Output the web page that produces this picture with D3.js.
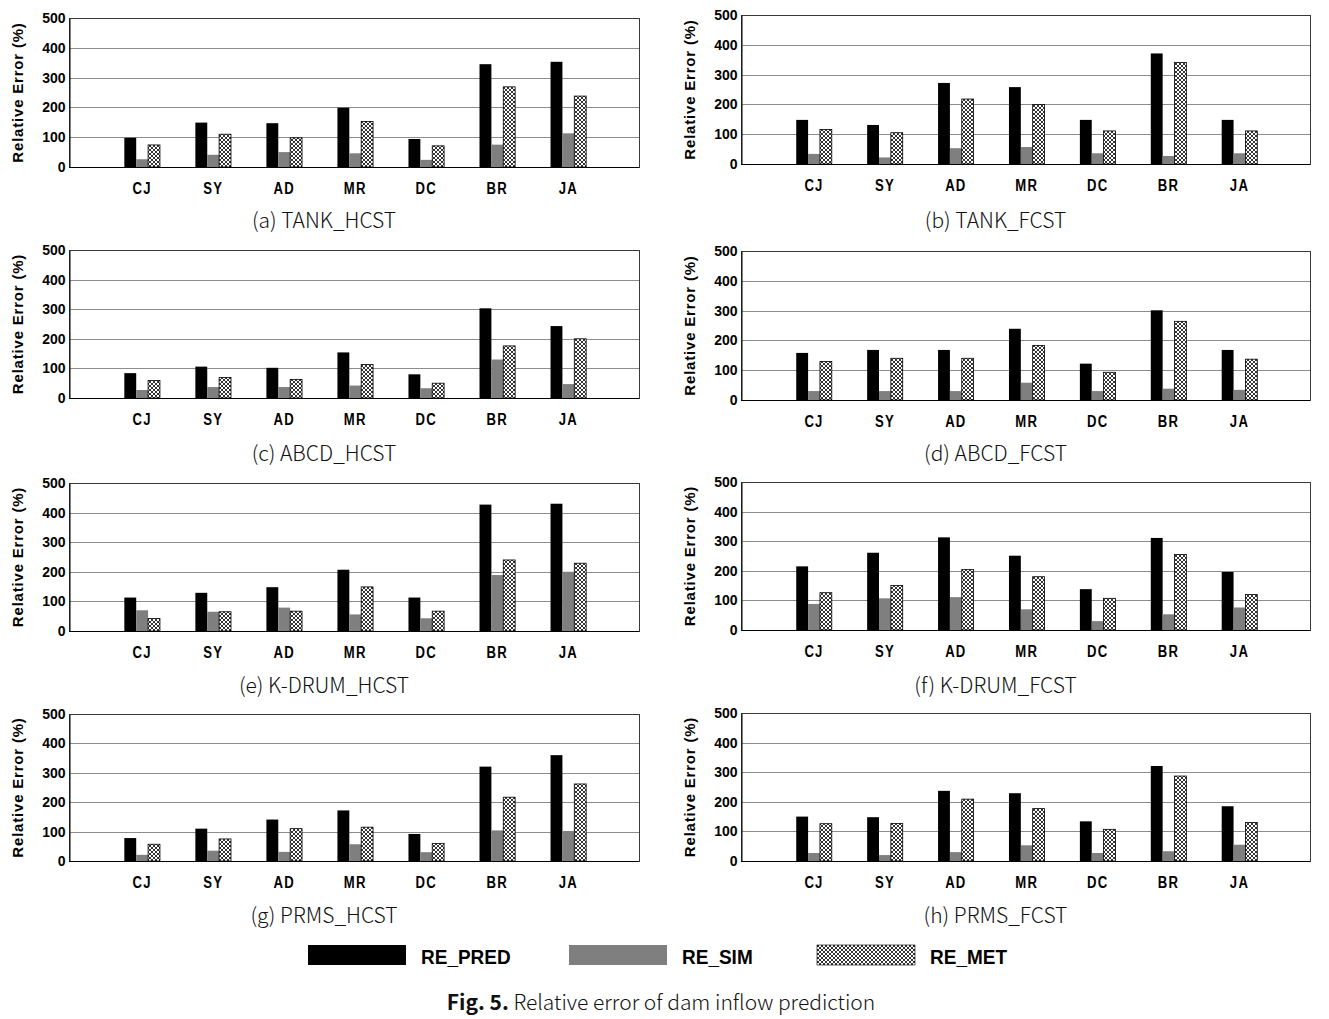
<!DOCTYPE html>
<html>
<head>
<meta charset="utf-8">
<script src="https://cdn.jsdelivr.net/npm/d3@7"></script>
<style>
  html, body { margin: 0; padding: 0; background: #fff; }
  svg { display: block; }
</style>
</head>
<body>
<svg id="chart" width="1329" height="1019"></svg>
<script>
// ---------- data ----------
const categories = ["CJ", "SY", "AD", "MR", "DC", "BR", "JA"];
const seriesNames = ["RE_PRED", "RE_SIM", "RE_MET"];
const yTicks = [0, 100, 200, 300, 400, 500];
const panelTitles = ["(a) TANK_HCST", "(b) TANK_FCST", "(c) ABCD_HCST", "(d) ABCD_FCST",
                     "(e) K-DRUM_HCST", "(f) K-DRUM_FCST", "(g) PRMS_HCST", "(h) PRMS_FCST"];
const yTitle = "Relative Error (%)";
const captionBold = "Fig. 5.";
const captionText = " Relative error of dam inflow prediction";

// each: [RE_PRED, RE_SIM, RE_MET] for CJ..JA
const tankHcst = [
  [98, 149, 147, 199, 94, 345, 353],
  [26, 41, 50, 46, 24, 75, 113],
  [74, 110, 98, 153, 71, 269, 238]
];
const tankFcst = [
  [148, 131, 272, 258, 148, 371, 148],
  [34, 22, 53, 57, 36, 27, 36],
  [116, 105, 218, 200, 111, 341, 111]
];
const abcdHcst = [
  [84, 106, 102, 154, 80, 303, 243],
  [27, 37, 37, 42, 33, 130, 47],
  [59, 69, 63, 113, 50, 176, 200]
];
const abcdFcst = [
  [158, 168, 168, 239, 122, 301, 168],
  [30, 30, 30, 58, 30, 38, 34],
  [129, 140, 140, 183, 93, 264, 137]
];
const kdrumHcst = [
  [113, 129, 148, 207, 113, 427, 430],
  [70, 65, 79, 56, 43, 189, 200],
  [42, 65, 67, 149, 67, 240, 229]
];
const kdrumFcst = [
  [215, 261, 313, 251, 138, 311, 196],
  [88, 107, 111, 70, 30, 53, 76],
  [126, 150, 204, 180, 107, 255, 120]
];
const prmsHcst = [
  [78, 110, 141, 172, 92, 321, 360],
  [21, 35, 31, 57, 30, 104, 102],
  [57, 75, 110, 115, 60, 217, 262]
];
const prmsFcst = [
  [150, 148, 237, 229, 134, 321, 185],
  [27, 20, 30, 53, 27, 33, 55],
  [126, 127, 209, 177, 107, 287, 130]
];
const panelData = [tankHcst, tankFcst, abcdHcst, abcdFcst, kdrumHcst, kdrumFcst, prmsHcst, prmsFcst];

// ---------- layout ----------
const svg = d3.select("#chart");
const colLeft = [69, 741];
const colRight = [639, 1310];
const panelTop = [18, 15, 250, 251, 483, 482, 714, 713];
const panelBottom = [167, 164, 398, 400, 631, 630, 861, 861];
const titleY = [228, 461, 693, 923];
const fills = ["#000000", "#7f7f7f", "url(#hatch)"];

const defs = svg.append("defs");
const pat = defs.append("pattern")
  .attr("id", "hatch").attr("patternUnits", "userSpaceOnUse")
  .attr("width", 4).attr("height", 4);
pat.append("rect").attr("width", 4).attr("height", 4).attr("fill", "#fff");
pat.append("path").attr("d", "M0,0L4,4M4,0L0,4M-1,3L1,5M3,-1L5,1M-1,1L1,-1M3,5L5,3")
  .attr("stroke", "#000").attr("stroke-width", 0.8);

const tickFont = "'Liberation Sans', Arial, sans-serif";
const titleFont = "'Noto Sans CJK KR', 'Noto Sans', sans-serif";

panelData.forEach((data, p) => {
  const col = p % 2, row = Math.floor(p / 2);
  const x0 = colLeft[col], x1 = colRight[col];
  const top = panelTop[p], bottom = panelBottom[p];
  const step = (x1 - x0) / 8;

  const y = d3.scaleLinear().domain([0, 500]).range([bottom, top]);
  const x = d3.scaleBand().domain(categories).range([x0 + step / 2 + 2, x1 - step / 2 + 0.5]).padding(0);
  const groupW = step * 0.5;
  const xs = d3.scaleBand().domain(seriesNames).range([0, groupW]).padding(0);

  const g = svg.append("g");

  // gridlines
  g.append("g").selectAll("line").data(yTicks.filter(t => t > 0 && t < 500)).join("line")
    .attr("x1", x0).attr("x2", x1)
    .attr("y1", d => Math.round(y(d)) + 0.5).attr("y2", d => Math.round(y(d)) + 0.5)
    .attr("stroke", "#8c8c8c").attr("stroke-width", 1);

  // frame
  g.append("rect")
    .attr("x", x0 + 0.5).attr("y", Math.round(top) + 0.5)
    .attr("width", x1 - x0).attr("height", Math.round(bottom) - Math.round(top))
    .attr("fill", "none").attr("stroke", "#3a3a3a").attr("stroke-width", 1);

  // bars
  seriesNames.forEach((s, si) => {
    g.append("g").selectAll("rect").data(categories).join("rect")
      .attr("x", (c) => x(c) + (x.bandwidth() - groupW) / 2 + xs(s))
      .attr("y", (c, i) => y(data[si][i]))
      .attr("width", xs.bandwidth())
      .attr("height", (c, i) => y(0) - y(data[si][i]))
      .attr("fill", fills[si])
      .attr("stroke", si === 2 ? "#000" : "none")
      .attr("stroke-width", si === 2 ? 0.8 : 0);
  });

  // y axis
  const yAxis = d3.axisLeft(y).tickValues(yTicks).tickSize(0).tickPadding(4);
  const ya = g.append("g").attr("transform", `translate(${x0 + 0.5},0)`).call(yAxis);
  ya.select(".domain").attr("stroke", "#000");
  ya.selectAll("text").attr("font-family", tickFont).attr("font-weight", "bold")
    .attr("font-size", 14).attr("fill", "#000");

  // x axis
  const xAxis = d3.axisBottom(x).tickSize(0).tickPadding(15);
  const xa = g.append("g").attr("transform", `translate(0,${Math.round(bottom) + 0.5})`).call(xAxis);
  xa.select(".domain").attr("stroke", "#000").attr("d", `M${x0},0H${x1}`);
  xa.selectAll("text").attr("font-family", tickFont).attr("font-weight", "bold")
    .attr("font-size", 16).attr("letter-spacing", 1.5).attr("fill", "#000")
    .attr("transform", "scale(0.82,1)");

  // y title
  g.append("text")
    .attr("transform", `translate(${x0 - 51},${(top + bottom) / 2}) rotate(-90)`)
    .attr("text-anchor", "middle").attr("dy", "0.35em")
    .attr("font-family", tickFont).attr("font-weight", "bold").attr("font-size", 15)
    .attr("letter-spacing", 0.8)
    .text(yTitle);

  // panel title
  g.append("text")
    .attr("x", (x0 - 60 + x1) / 2).attr("y", titleY[row])
    .attr("text-anchor", "middle")
    .attr("font-family", titleFont).attr("font-weight", 300).attr("font-size", 21)
    .attr("fill", "#111")
    .text(panelTitles[p]);
});

// legend
const legendX = [308, 569, 817];
const legend = svg.append("g");
seriesNames.forEach((s, i) => {
  legend.append("rect")
    .attr("x", legendX[i]).attr("y", 945).attr("width", 98).attr("height", 20)
    .attr("fill", fills[i]).attr("stroke", i === 2 ? "#000" : "none").attr("stroke-width", 0.6);
  legend.append("text")
    .attr("transform", `translate(${legendX[i] + 113},964) scale(0.95,1)`)
    .attr("font-family", tickFont).attr("font-weight", "bold").attr("font-size", 20)
    .text(s);
});

// caption
const cap = svg.append("text")
  .attr("x", 661).attr("y", 1010).attr("text-anchor", "middle")
  .attr("font-family", titleFont).attr("font-size", 21).attr("fill", "#111");
cap.append("tspan").attr("font-weight", "bold").text(captionBold);
cap.append("tspan").attr("font-weight", 300).text(captionText);
</script>
</body>
</html>
